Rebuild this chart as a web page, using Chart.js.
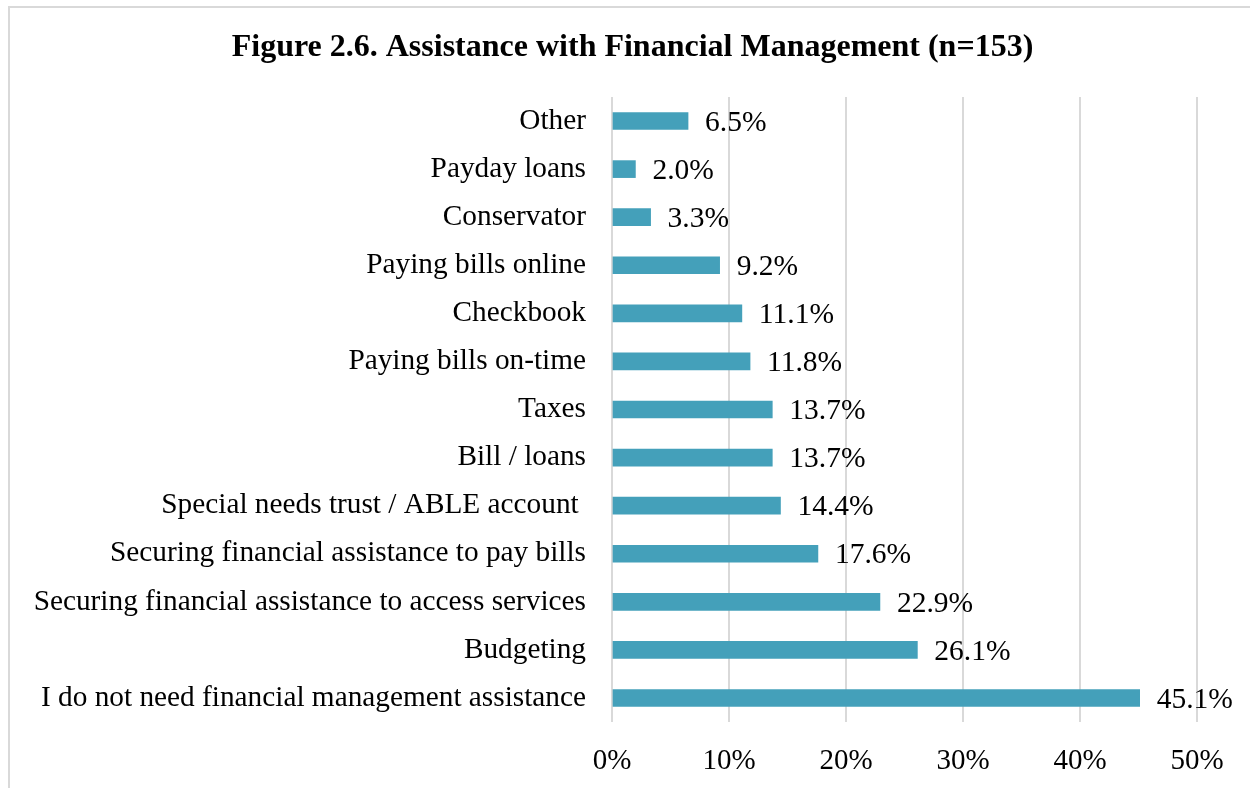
<!DOCTYPE html>
<html>
<head>
<meta charset="utf-8">
<script src="https://cdn.jsdelivr.net/npm/chart.js@4"></script>
<style>
html,body{margin:0;padding:0;background:#fff;overflow:hidden;width:1250px;height:788px;}
#frame{position:absolute;left:8px;top:6px;width:1300px;height:900px;border-left:2px solid #d9d9d9;border-top:2px solid #d9d9d9;box-sizing:border-box;}
#wrap{position:absolute;left:0;top:0;width:1250px;height:788px;}
</style>
</head>
<body>
<div id="frame"></div>
<div id="wrap"><canvas id="c" width="1250" height="788"></canvas></div>
<script>
const titleText = 'Figure 2.6. Assistance with Financial Management (n=153)';
const categories = [
  'Other',
  'Payday loans',
  'Conservator',
  'Paying bills online',
  'Checkbook',
  'Paying bills on-time',
  'Taxes',
  'Bill / loans',
  'Special needs trust / ABLE account ',
  'Securing financial assistance to pay bills',
  'Securing financial assistance to access services',
  'Budgeting',
  'I do not need financial management assistance'
];
const percentages = [6.5, 2.0, 3.3, 9.2, 11.1, 11.8, 13.7, 13.7, 14.4, 17.6, 22.9, 26.1, 45.1];
const tickValues = [0, 10, 20, 30, 40, 50];

const FONT = "'Liberation Serif', 'Times New Roman', serif";
const BAR = '#44A0BA';

const titlePlugin = {
  id: 'customTitle',
  afterDraw(chart) {
    const ctx = chart.ctx;
    ctx.save();
    ctx.font = 'bold 32px ' + FONT;
    ctx.fillStyle = '#000';
    ctx.textAlign = 'center';
    ctx.textBaseline = 'alphabetic';
    ctx.fillText(titleText, 632.5, 56);
    ctx.restore();
  }
};

const labelPlugin = {
  id: 'valueLabels',
  afterDatasetsDraw(chart) {
    const ctx = chart.ctx;
    const meta = chart.getDatasetMeta(0);
    ctx.save();
    ctx.font = '29.5px ' + FONT;
    ctx.fillStyle = '#000';
    ctx.textAlign = 'left';
    ctx.textBaseline = 'middle';
    meta.data.forEach((bar, i) => {
      ctx.fillText(percentages[i].toFixed(1) + '%', bar.x + 17, bar.y + 2);
    });
    ctx.restore();
  }
};

new Chart(document.getElementById('c'), {
  type: 'bar',
  data: {
    labels: categories,
    datasets: [{
      data: percentages,
      backgroundColor: BAR,
      borderWidth: 0,
      barThickness: 17
    }]
  },
  options: {
    indexAxis: 'y',
    responsive: false,
    animation: false,
    layout: { padding: { top: 97, right: 53, left: 0, bottom: 0 } },
    plugins: {
      legend: { display: false },
      title: { display: false },
      tooltip: { enabled: false }
    },
    scales: {
      x: {
        min: 0,
        max: 50,
        afterFit(scale) { scale.height = 66; },
        afterBuildTicks(scale) { scale.ticks = tickValues.map(v => ({ value: v })); },
        grid: { color: '#d9d9d9', lineWidth: 2, drawTicks: false },
        border: { display: false },
        ticks: {
          font: { family: FONT, size: 29 },
          color: '#000',
          padding: 22,
          maxRotation: 0,
          callback: (v) => v + '%'
        }
      },
      y: {
        afterFit(scale) { scale.width = 612; },
        grid: { display: false, drawTicks: false },
        border: { display: false },
        ticks: {
          font: { family: FONT, size: 29.3 },
          color: '#000',
          padding: 26,
          autoSkip: false
        }
      }
    }
  },
  plugins: [titlePlugin, labelPlugin]
});
</script>
</body>
</html>
